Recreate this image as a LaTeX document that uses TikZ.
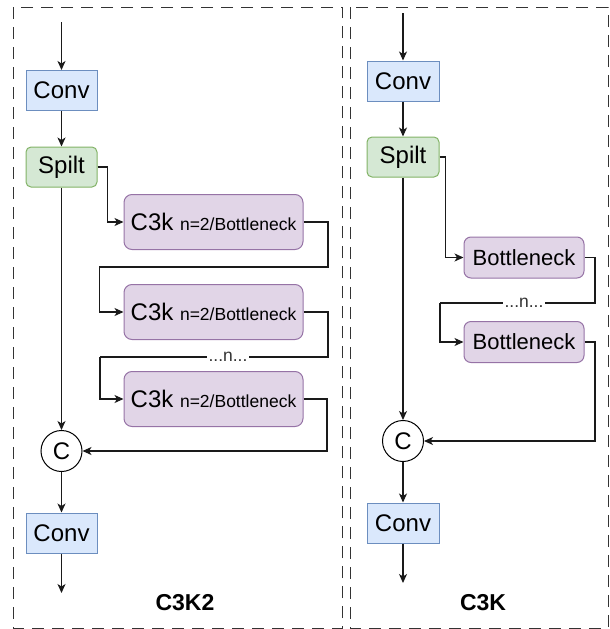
\documentclass[tikz,border=0pt]{standalone}
\usepackage{fontspec}
\setmainfont{Liberation Sans}
\usetikzlibrary{arrows.meta,calc}
\definecolor{convF}{HTML}{DAE8FC}
\definecolor{convS}{HTML}{6C8EBF}
\definecolor{splF}{HTML}{D5E8D4}
\definecolor{splS}{HTML}{82B366}
\definecolor{cF}{HTML}{E1D5E7}
\definecolor{cS}{HTML}{9673A6}
\definecolor{lineC}{HTML}{1A1A1A}
\definecolor{dashC}{HTML}{333333}
\tikzset{
  base/.style={inner sep=0pt, line width=1pt, text=black},
  convbox/.style={base, draw=convS, fill=convF, minimum height=40pt, font=\fontsize{24}{26}\selectfont},
  splitbox/.style={base, draw=splS, fill=splF, rounded corners=5pt, minimum height=40pt, font=\fontsize{24}{26}\selectfont},
  c3kbox/.style={base, draw=cS, fill=cF, rounded corners=8pt, minimum width=179pt, minimum height=55pt},
  bnbox/.style={base, draw=cS, fill=cF, rounded corners=7pt, minimum width=120pt, minimum height=41pt, font=\fontsize{22}{24}\selectfont},
  catnode/.style={base, draw=black, fill=white, circle, minimum size=41pt, font=\fontsize{24}{26}\selectfont},
  dotsnode/.style={fill=white, inner sep=1.5pt, text=dashC, font=\fontsize{17.5}{19}\selectfont},
  titlenode/.style={inner sep=0pt, font=\fontsize{23}{25}\selectfont\bfseries},
  arr/.style={draw=lineC, line width=1.2pt, -{Stealth[length=9pt,width=8pt,inset=2.5pt]}},
  conn/.style={draw=lineC, line width=1.2pt},
  panel/.style={draw=dashC, line width=1pt, dash pattern=on 12pt off 8pt},
}
\newcommand{\cthreek}{{\fontsize{24}{26}\selectfont C3k\ }{\fontsize{17.5}{19}\selectfont n=2/Bottleneck}}
\begin{document}
\begin{tikzpicture}[x=1pt,y=-1pt]
\useasboundingbox (0,0) rectangle (610,629);
% panels
\draw[panel] (13,7) rectangle (342,628);
\draw[panel] (350,7) rectangle (608,628);

% ---------- left: C3K2 ----------
\coordinate (lin) at (61.5,22);
\node[convbox, minimum width=71pt] (conv1) at (61.5,90.5) {Conv};
\node[splitbox, minimum width=71pt] (split1) at (61.5,167) {Spilt};
\node[c3kbox] (k1) at (213.5,222) {\cthreek};
\node[c3kbox] (k2) at (213.5,312) {\cthreek};
\node[c3kbox] (k3) at (213.5,399) {\cthreek};
\node[catnode] (cat1) at (61.5,451) {C};
\node[convbox, minimum width=71pt] (conv2) at (61.5,533) {Conv};
\coordinate (lout) at (61.5,593);
\node[titlenode] (t1) at (185,603) {C3K2};

\draw[arr] (lin) -- (conv1);
\draw[arr] (conv1) -- (split1);
\draw[arr] (split1.east) -- ++(10,0) |- (k1.west);
\draw[arr] (k1.east) -| (328,267) -| ([xshift=-24pt]k2.west) -- (k2.west);
\draw[conn] (k2.east) -| (328,357) -- (100,357);
\draw[arr] (100,357) |- (k3.west);
\node[dotsnode] (d1) at (228,357) {...n...};
\draw[arr] (k3.east) -| (327,451) -- (cat1.east);
\draw[arr] (split1.south) -- (cat1.north);
\draw[arr] (cat1.south) -- (conv2.north);
\draw[arr] (conv2.south) -- (lout);

% ---------- right: C3K ----------
\coordinate (rin) at (403,13);
\node[convbox, minimum width=72pt] (conv3) at (403,81) {Conv};
\node[splitbox, minimum width=72pt] (split2) at (403,157) {Spilt};
\node[bnbox] (b1) at (524,257.5) {Bottleneck};
\node[bnbox] (b2) at (524,342) {Bottleneck};
\node[catnode] (cat2) at (403,441) {C};
\node[convbox, minimum width=72pt] (conv4) at (403,523) {Conv};
\coordinate (rout) at (403,583);
\node[titlenode] (t2) at (483,603) {C3K};

\draw[arr] (rin) -- (conv3);
\draw[arr] (conv3) -- (split2);
\draw[arr] (split2.east) -- ++(6,0) |- (b1.west);
\draw[conn] (b1.east) -| (595,303) -- (440,303);
\draw[arr] (440,303) |- (b2.west);
\node[dotsnode] (d2) at (524,303) {...n...};
\draw[arr] (b2.east) -| (595,441) -- (cat2.east);
\draw[arr] (split2.south) -- (cat2.north);
\draw[arr] (cat2.south) -- (conv4.north);
\draw[arr] (conv4.south) -- (rout);
\end{tikzpicture}
\end{document}
